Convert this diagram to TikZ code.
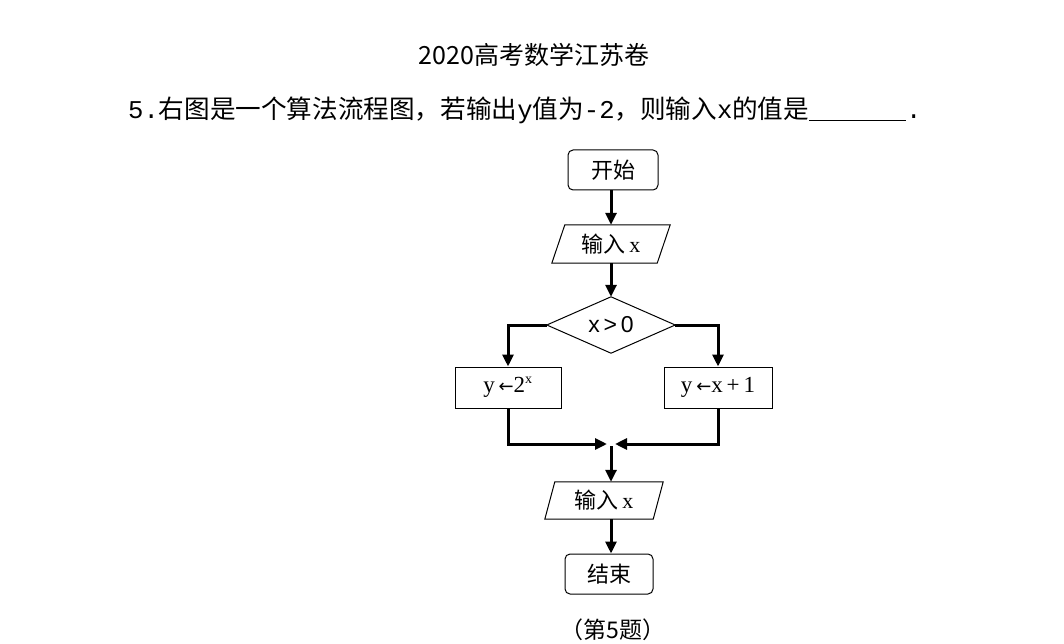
\documentclass[tikz,border=0pt]{standalone}
\usepackage{fontspec}
\setmainfont{Liberation Serif}
\newfontfamily\cjkf{Noto Sans CJK SC}
\newfontfamily\lmono{Liberation Mono}
\newfontfamily\lsans{Liberation Sans}
\newfontfamily\dejav{DejaVu Sans}
\usetikzlibrary{arrows.meta}
\tikzset{
  arr/.style={line width=3pt, -{Triangle[length=12pt,width=11pt]}},
  rbox/.style={draw, line width=1pt, rounded corners=5pt, minimum width=90pt, minimum height=40pt, inner sep=0pt, font=\cjkf\fontsize{22}{24}\selectfont},
  sbox/.style={draw, line width=1pt, minimum height=41pt, inner sep=0pt, font=\fontsize{23}{25}\selectfont},
  ghost/.style={draw=none, inner sep=0pt},
  thin/.style={line width=1pt}
}
\newcommand{\larr}{{\dejav\fontsize{18}{20}\selectfont ←}}
\begin{document}
\begin{tikzpicture}[x=1pt,y=-1pt]
\useasboundingbox (0,0) rectangle (1064,644);
% title and question
\node[ghost, font=\cjkf\fontsize{25}{28}\selectfont] (title) at (534,55) {2020高考数学江苏卷};
\node[ghost, anchor=west, font=\fontsize{25.6}{28}\selectfont] (q) at (128,110)
  {{\lmono 5.}{\cjkf 右图是一个算法流程图，若输出}{\lmono y}{\cjkf 值为}{\lmono -2}{\cjkf ，则输入}{\lmono x}{\cjkf 的值是}\rule[-3pt]{97pt}{1pt}{\lmono .}};
% flowchart nodes
\node[rbox] (start) at (613,170) {开始};
\node[ghost, minimum width=105pt, minimum height=38pt, font=\fontsize{22}{24}\selectfont] (p1) at (611,244) {{\cjkf 输入}\,x};
\draw[thin] ([xshift=6.5pt]p1.north west) -- ([xshift=6.5pt]p1.north east) -- ([xshift=-6.5pt]p1.south east) -- ([xshift=-6.5pt]p1.south west) -- cycle;
\node[ghost, minimum width=128pt, minimum height=56pt, font=\lsans\fontsize{23}{25}\selectfont] (d) at (611,325) {x\,>\,0};
\draw[thin] (d.north) -- (d.east) -- (d.south) -- (d.west) -- cycle;
\node[sbox, minimum width=106pt] (l) at (508,387.5) {y\,\larr2\textsuperscript{\fontsize{14}{14}\selectfont x}};
\node[sbox, minimum width=108pt] (r) at (718,387.5) {y\,\larr x\,+\,1};
\coordinate (j) at (611,444);
\coordinate (jl) at (607,444);
\coordinate (jr) at (615,444);
\node[ghost, minimum width=108pt, minimum height=37pt, font=\fontsize{22}{24}\selectfont] (p2) at (604,500.5) {{\cjkf 输入}\,x};
\draw[thin] ([xshift=5pt]p2.north west) -- ([xshift=5pt]p2.north east) -- ([xshift=-5pt]p2.south east) -- ([xshift=-5pt]p2.south west) -- cycle;
\node[rbox, minimum width=88pt] (end) at (609,574) {结束};
\node[ghost, font=\cjkf\fontsize{23}{26}\selectfont] (cap) at (613,630) {（第5题）};
% connectors
\draw[arr] (start.south -| p1) -- (p1.north);
\draw[arr] (p1.south) -- (d.north);
\draw[arr] (d.west) -| (l.north);
\draw[arr] (d.east) -| (r.north);
\draw[arr] (l.south) |- (jl);
\draw[arr] (r.south) |- (jr);
\draw[arr] ([yshift=-2pt]j) -- (j |- p2.north);
\draw[arr] (j |- p2.south) -- (j |- end.north);
\end{tikzpicture}
\end{document}
